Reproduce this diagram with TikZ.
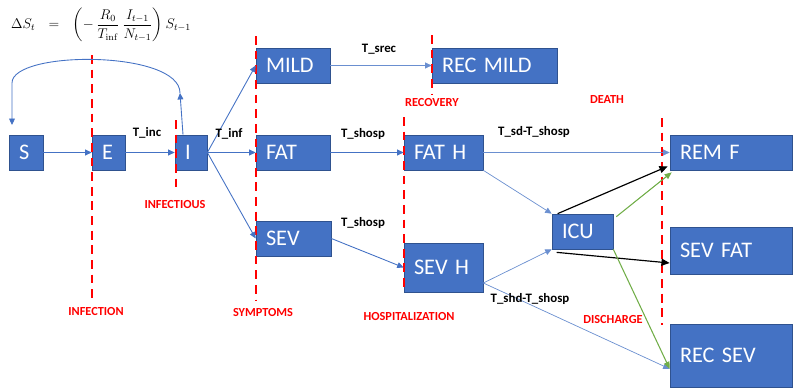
\documentclass[tikz,border=0pt]{standalone}
\usepackage[no-math]{fontspec}
\setmainfont{Carlito}
\usepackage{amsmath}
\usetikzlibrary{arrows.meta}
\definecolor{cbox}{HTML}{4472C4}
\definecolor{cboxline}{HTML}{2F528F}
\definecolor{cflow}{HTML}{4472C4}
\definecolor{cflowlt}{HTML}{6A8FD0}
\definecolor{cgreen}{HTML}{70AD47}
\definecolor{cstage}{HTML}{FF0000}

\begin{document}
\begin{tikzpicture}[x=0.03cm,y=-0.03cm,
  comp/.style={draw=cboxline,fill=cbox,text=white,line width=0.6pt,inner xsep=0.3cm,inner ysep=0pt,align=left,font=\fontsize{19}{20}\selectfont},
  flow/.style={draw=cflow,line width=0.75pt,-{Triangle[length=5.5pt,width=5pt]}},
  flowlt/.style={draw=cflowlt,line width=0.6pt,-{Triangle[length=5.5pt,width=5pt]}},
  blk/.style={draw=black,line width=1pt,-{Triangle[length=7pt,width=6pt]}},
  grn/.style={draw=cgreen,line width=0.9pt,-{Triangle[length=6pt,width=5pt]}},
  stage/.style={draw=cstage,line width=2.5pt,dash pattern=on 7.5pt off 5pt},
  stagelbl/.style={text=cstage,font=\bfseries\fontsize{10.5}{12}\selectfont},
  tlbl/.style={font=\bfseries\fontsize{11}{12}\selectfont}]
\useasboundingbox (0,0) rectangle (793,388);

\node (eq) at (11,25) [anchor=west,inner sep=0pt,font=\fontsize{11.5}{13}\selectfont] {$\displaystyle \Delta S_t \hspace{8pt}=\hspace{8pt} \left(-\,\frac{R_0}{T_{\mathrm{inf}}}\,\frac{I_{t-1}}{N_{t-1}}\right) S_{t-1}$};

\node (S) at (26,152.5) [comp,text width=0.42cm,minimum height=1.05cm] {S};
\node (E) at (108.5,152.5) [comp,text width=0.39cm,minimum height=1.05cm] {E};
\node (I) at (191,152.5) [comp,text width=0.36cm,minimum height=1.05cm] {I};
\node (mild) at (293,65.5) [comp,text width=1.62cm,minimum height=1.05cm] {MILD};
\node (recmild) at (494.5,65.5) [comp,text width=3.15cm,minimum height=1.05cm] {REC~MILD};
\node (fat) at (293,152.5) [comp,text width=1.62cm,minimum height=1.05cm] {FAT};
\node (fath) at (443.5,152.5) [comp,text width=1.77cm,minimum height=1.05cm] {FAT~H};
\node (remf) at (731,152.5) [comp,text width=3.06cm,minimum height=1.05cm] {REM~F};
\node (sev) at (293.5,238.5) [comp,text width=1.65cm,minimum height=1.05cm] {SEV};
\node (sevh) at (443.5,267.5) [comp,text width=1.77cm,minimum height=1.47cm] {SEV~H};
\node (icu) at (582.5,231.5) [comp,text width=1.23cm,minimum height=1.05cm] {ICU};
\node (sevfat) at (731,250.5) [comp,text width=3.06cm,minimum height=1.41cm] {SEV~FAT};
\node (recsev) at (731,355.5) [comp,text width=3.06cm,minimum height=1.89cm] {REC~SEV};

\draw[stage] (92,55) -- (92,300);
\draw[stage] (176,120) -- (176,192);
\draw[stage] (256,36) -- (256,300);
\draw[stage] (432,35) -- (432,95);
\draw[stage] (404,117) -- (404,292);
\draw[stage] (662,118) -- (662,325);

\coordinate (fb) at (180,93);
\coordinate (back) at (12,83);
\coordinate (sin) at (12,125);
\draw[flow] ([xshift=-0.24cm]I.north) -- (fb);
\draw[flow] (fb) .. controls (180,50) and (12,50) .. (back) -- (sin);

\draw[flow] (S) -- (E);
\draw[flow] (E) -- (I);
\draw[flow] (I.east) -- (mild.west);
\draw[flow] (I) -- (fat);
\draw[flow] (I.east) -- (sev.west);
\draw[flowlt] (mild) -- (recmild);
\draw[flow] (fat) -- (fath);
\draw[flow] (sev.east) -- (sevh.west);
\draw[flowlt] (fath) -- (remf);
\draw[flowlt] (fath.south east) -- (icu.north west);
\draw[flowlt] ([yshift=-0.465cm]sevh.east) -- (icu.south west);
\draw[flowlt] ([yshift=-0.465cm]sevh.east) -- ([yshift=-0.4cm]recsev.west);
\draw[blk] ([xshift=0.18cm]icu.north west) -- ([xshift=-0.06cm,yshift=0.12cm]remf.south west);
\draw[grn] ([xshift=0.09cm,yshift=-0.09cm]icu.north east) -- ([xshift=0.06cm,yshift=-0.06cm]remf.south west);
\draw[blk] ([xshift=0.15cm,yshift=-0.09cm]icu.south west) -- ([yshift=-0.375cm]sevfat.west);
\draw[grn] (icu.south east) -- ([yshift=-0.4cm]recsev.west);

\node (tinc) at (147,133) [tlbl] {T\_inc};
\node (tinf) at (229,134) [tlbl] {T\_inf};
\node (tsrec) at (379,49) [tlbl] {T\_srec};
\node (tshosp) at (363,134) [tlbl] {T\_shosp};
\node (tsd) at (534,132) [tlbl] {T\_sd-T\_shosp};
\node (tshospsev) at (363,223) [tlbl] {T\_shosp};
\node (tshd) at (530,299) [tlbl] {T\_shd-T\_shosp};

\node (infection) at (96,312) [stagelbl] {INFECTION};
\node (infectious) at (175,205) [stagelbl] {INFECTIOUS};
\node (symptoms) at (263,313) [stagelbl] {SYMPTOMS};
\node (recovery) at (432,103) [stagelbl] {RECOVERY};
\node (hosp) at (409,317) [stagelbl] {HOSPITALIZATION};
\node (death) at (607,100) [stagelbl] {DEATH};
\node (discharge) at (613,320) [stagelbl] {DISCHARGE};
\end{tikzpicture}
\end{document}
